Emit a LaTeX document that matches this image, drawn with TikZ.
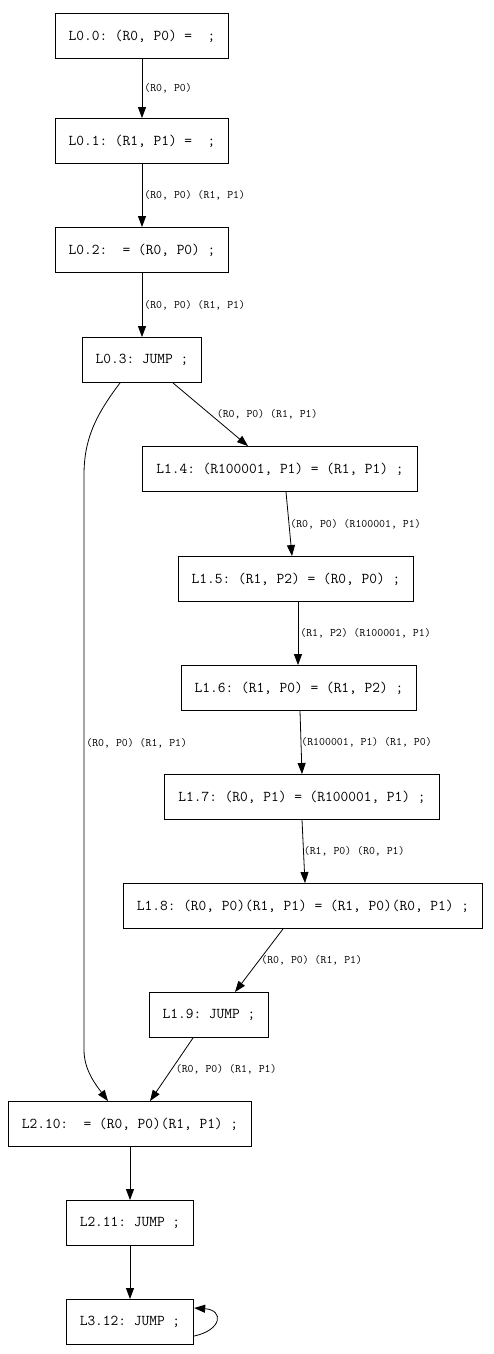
\documentclass[tikz,border=0pt]{standalone}
\usepackage{fontspec}
\setmainfont{Latin Modern Mono}
\usetikzlibrary{arrows.meta}
\begin{document}
\frenchspacing
\begin{tikzpicture}[x=1pt,y=-1pt,
  box/.style={draw,line width=0.9pt,minimum height=45pt,inner xsep=13.5pt,font=\fontsize{15}{17}\selectfont},
  arr/.style={line width=0.8pt,-{Triangle[length=11pt,width=8pt]}},
  lbl/.style={font=\fontsize{11.5}{13}\selectfont,inner sep=0pt,anchor=west}]
\useasboundingbox (0,0) rectangle (494,1354);
\node[box] (L00) at (142,36) {L0.0: (R0, P0) =\ \ ;};
\node[box] (L01) at (142,141) {L0.1: (R1, P1) =\ \ ;};
\node[box] (L02) at (142,250) {L0.2:\ \ = (R0, P0) ;};
\node[box] (L03) at (142,360) {L0.3: JUMP ;};
\node[box] (L14) at (280,469) {L1.4: (R100001, P1) = (R1, P1) ;};
\node[box] (L15) at (296,579) {L1.5: (R1, P2) = (R0, P0) ;};
\node[box] (L16) at (299,688) {L1.6: (R1, P0) = (R1, P2) ;};
\node[box] (L17) at (302,797) {L1.7: (R0, P1) = (R100001, P1) ;};
\node[box] (L18) at (303,906) {L1.8: (R0, P0)(R1, P1) = (R1, P0)(R0, P1) ;};
\node[box] (L19) at (209,1015) {L1.9: JUMP ;};
\node[box] (L210) at (130,1124) {L2.10:\ \ = (R0, P0)(R1, P1) ;};
\node[box] (L211) at (130,1223) {L2.11: JUMP ;};
\node[box] (L312) at (130,1322) {L3.12: JUMP ;};

\draw[arr] (L00) -- node[lbl,xshift=2pt]{(R0, P0)} (L01);
\draw[arr] (L01) -- node[lbl,xshift=2pt]{(R0, P0) (R1, P1)} (L02);
\draw[arr] (L02) -- node[lbl,xshift=2pt]{(R0, P0) (R1, P1)} (L03);
\draw[arr] ([xshift=31pt]L03.south) -- node[lbl,xshift=6pt]{(R0, P0) (R1, P1)} ([xshift=-32pt]L14.north);
\draw[arr] ([xshift=-22pt]L03.south) .. controls +(-25,33) and +(0,-35) .. (84,475)
  -- node[lbl,pos=0.466,xshift=2pt]{(R0, P0) (R1, P1)} (84,1050)
  .. controls +(0,20) and +(-12,-16) .. ([xshift=-22pt]L210.north);
\draw[arr] ([xshift=6pt]L14.south) -- node[lbl,xshift=1pt]{(R0, P0) (R100001, P1)} ([xshift=-4pt]L15.north);
\draw[arr] ([xshift=2pt]L15.south) -- node[lbl,xshift=2pt]{(R1, P2) (R100001, P1)} ([xshift=-1pt]L16.north);
\draw[arr] ([xshift=1pt]L16.south) -- node[lbl,xshift=0pt]{(R100001, P1) (R1, P0)} ([xshift=0pt]L17.north);
\draw[arr] ([xshift=0pt]L17.south) -- node[lbl,xshift=0pt]{(R1, P0) (R0, P1)} ([xshift=2pt]L18.north);
\draw[arr] ([xshift=-20pt]L18.south) -- node[lbl,xshift=2pt]{(R0, P0) (R1, P1)} ([xshift=26pt]L19.north);
\draw[arr] ([xshift=-16pt]L19.south) -- node[lbl,xshift=4pt]{(R0, P0) (R1, P1)} ([xshift=20pt]L210.north);
\draw[arr] (L210) -- (L211);
\draw[arr] (L211) -- (L312);
\draw[arr] ([yshift=-14pt]L312.east) .. controls +(28,-6) and +(30,2) .. ([yshift=14pt]L312.east);
\end{tikzpicture}
\end{document}
